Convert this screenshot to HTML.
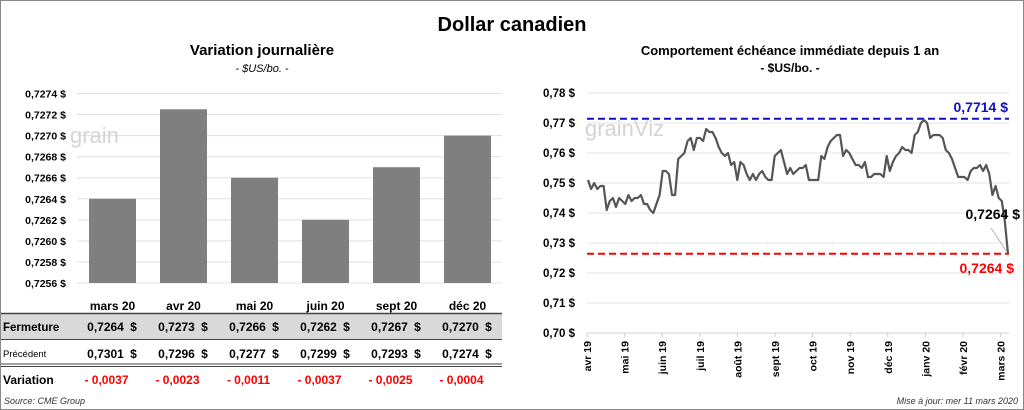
<!DOCTYPE html>
<html><head><meta charset="utf-8"><style>
body{margin:0;background:#fff;font-family:"Liberation Sans",sans-serif}
#wrap{position:relative;width:1024px;height:410px;overflow:hidden}
</style></head><body>
<div id="wrap">
<svg width="1024" height="410" id="svg" xmlns="http://www.w3.org/2000/svg" style="font-family:'Liberation Sans',sans-serif">
<rect x="0.5" y="0.5" width="1023" height="409" fill="#fff" stroke="#888"/>
<text x="512" y="31" text-anchor="middle" font-size="20" font-weight="bold">Dollar canadien</text>
<text x="262" y="55" text-anchor="middle" font-size="15" font-weight="bold">Variation  journalière</text>
<text x="262" y="72" text-anchor="middle" font-size="11" font-style="italic">- $US/bo. -</text>
<text x="790" y="55" text-anchor="middle" font-size="13" font-weight="bold">Comportement échéance immédiate depuis 1 an</text>
<text x="790" y="72" text-anchor="middle" font-size="12" font-weight="bold">- $US/bo. -</text>
<g id="left"></g>
<g id="right"></g>
<text x="4" y="404" font-size="9" font-style="italic" fill="#333">Source: CME Group</text>
<text x="1018" y="404" text-anchor="end" font-size="9" font-style="italic" fill="#333">Mise à jour: mer 11 mars 2020</text>
</svg>
</div>
<script>
const barCats=["mars 20","avr 20","mai 20","juin 20","sept 20","déc 20"];
const barVals=[0.7264,0.72725,0.7266,0.7262,0.7267,0.7270];
const closeLabels=["0,7264","0,7273","0,7266","0,7262","0,7267","0,7270"];
const prevLabels=["0,7301","0,7296","0,7277","0,7299","0,7293","0,7274"];
const varLabels=["- 0,0037","- 0,0023","- 0,0011","- 0,0037","- 0,0025","- 0,0004"];
const barTicks=[0.7256,0.7258,0.7260,0.7262,0.7264,0.7266,0.7268,0.7270,0.7272,0.7274];
const lineMonths=["avr 19","mai 19","juin 19","juil 19","août 19","sept 19","oct 19","nov 19","déc 19","janv 20","févr 20","mars 20"];
const lineTicks=[0.70,0.71,0.72,0.73,0.74,0.75,0.76,0.77,0.78];
const lineVals=[0.751,0.748,0.750,0.748,0.749,0.749,0.741,0.744,0.745,0.742,0.745,0.744,0.743,0.746,0.744,0.745,0.745,0.746,0.743,0.743,0.741,0.740,0.743,0.746,0.754,0.754,0.753,0.746,0.746,0.758,0.759,0.760,0.764,0.765,0.761,0.765,0.765,0.764,0.768,0.767,0.767,0.765,0.762,0.760,0.759,0.760,0.756,0.757,0.751,0.757,0.756,0.753,0.751,0.753,0.751,0.753,0.754,0.752,0.751,0.751,0.759,0.760,0.761,0.757,0.753,0.755,0.753,0.754,0.755,0.755,0.756,0.751,0.751,0.751,0.751,0.759,0.758,0.762,0.764,0.765,0.766,0.766,0.759,0.761,0.760,0.758,0.756,0.756,0.755,0.757,0.752,0.752,0.753,0.753,0.753,0.752,0.759,0.754,0.757,0.759,0.760,0.762,0.761,0.761,0.760,0.766,0.767,0.770,0.771,0.770,0.765,0.766,0.766,0.766,0.765,0.761,0.760,0.758,0.755,0.752,0.752,0.752,0.751,0.754,0.755,0.755,0.756,0.754,0.756,0.753,0.746,0.749,0.745,0.744,0.737,0.7264];
const maxLine=0.7714, lastLine=0.7264;
const NS="http://www.w3.org/2000/svg";
function mk(p,t,a,txt){const e=document.createElementNS(NS,t);for(const k in a)e.setAttribute(k,a[k]);if(txt!=null)e.textContent=txt;p.appendChild(e);return e;}
// Left
const L=document.getElementById('left');
const ly=v=>283-(v-0.7256)/(0.7274-0.7256)*189.5;
const bx0=77,bw=71;const bcx=i=>bx0+bw*(i+0.5);
barTicks.forEach(t=>{
 const g=mk(L,'line',{x1:77,x2:502,y1:ly(t),y2:ly(t),stroke:'#e0e0e0'});
 
 const tx=mk(L,'text',{x:66,y:ly(t)+4,'text-anchor':'end','font-size':10.5,'font-weight':'bold'},t.toFixed(4).replace('.',',')+' $');
 
});
mk(L,'text',{x:70,y:143,'font-size':22,fill:'#d4d4d4'},'grain');
barVals.forEach((v,i)=>{
 const r=mk(L,'rect',{x:bcx(i)-23.5,y:ly(v),width:47,height:283-ly(v),fill:'#7f7f7f'});
 
 const c=mk(L,'text',{x:bcx(i),y:310,'text-anchor':'middle','font-size':12,'font-weight':'bold'},barCats[i]);
 
});
const tr=mk(L,'rect',{x:1,y:314,width:501,height:25,fill:'#d9d9d9'});
mk(L,'line',{x1:1,x2:502,y1:313.5,y2:313.5,stroke:'#444','stroke-width':1.5});
mk(L,'line',{x1:1,x2:502,y1:339.5,y2:339.5,stroke:'#444','stroke-width':1});
mk(L,'line',{x1:1,x2:502,y1:364,y2:364,stroke:'#444','stroke-width':1});
mk(L,'line',{x1:1,x2:502,y1:366.5,y2:366.5,stroke:'#444','stroke-width':1});
let h=mk(L,'text',{x:3,y:331,'font-size':11.5,'font-weight':'bold'},'Fermeture');
h=mk(L,'text',{x:3,y:357,'font-size':9.5},'Précédent');
h=mk(L,'text',{x:3,y:384,'font-size':12,'font-weight':'bold'},'Variation');
barCats.forEach((c,i)=>{
 let t=mk(L,'text',{x:bcx(i)-7,y:331,'text-anchor':'middle','font-size':12,'font-weight':'bold'},closeLabels[i]);
 
 t=mk(L,'text',{x:bcx(i)+21,y:331,'text-anchor':'middle','font-size':12,'font-weight':'bold'},'$');
 
 t=mk(L,'text',{x:bcx(i)-7,y:358,'text-anchor':'middle','font-size':12,'font-weight':'bold'},prevLabels[i]);
 
 t=mk(L,'text',{x:bcx(i)+21,y:358,'text-anchor':'middle','font-size':12,'font-weight':'bold'},'$');
 
 t=mk(L,'text',{x:bcx(i)-6,y:384,'text-anchor':'middle','font-size':12,'font-weight':'bold',fill:'#ff0000'},varLabels[i]);
 
});
// Right
const R=document.getElementById('right');
const ry=v=>333-(v-0.70)/0.08*240;
const X0=587,X1=1009;
lineTicks.forEach(t=>{
 const g=mk(R,'line',{x1:X0,x2:X1,y1:ry(t),y2:ry(t),stroke:t===0.70?'#d0d0d0':'#e6e6e6'});
 
 const tx=mk(R,'text',{x:575,y:ry(t)+4,'text-anchor':'end','font-size':11.5,'font-weight':'bold'},t.toFixed(2).replace('.',',')+' $');
 
});
mk(R,'text',{x:585,y:136,'font-size':22,fill:'#d4d4d4'},'grainViz');
lineMonths.forEach((m,i)=>{
 const x=X0+i*37.6;
 mk(R,'line',{x1:x,x2:x,y1:333,y2:337,stroke:'#ccc'});
 const t=mk(R,'text',{transform:`translate(${x+4},341) rotate(-90)`,'text-anchor':'end','font-size':10.5,'font-weight':'bold'},m);
 
});
let d1=mk(R,'line',{x1:X0,x2:X1,y1:ry(maxLine),y2:ry(maxLine),stroke:'#1010c0','stroke-width':2,'stroke-dasharray':'7,4'});

let d2=mk(R,'line',{x1:X0,x2:X1,y1:ry(lastLine),y2:ry(lastLine),stroke:'#ff0000','stroke-width':2,'stroke-dasharray':'7,4'});

const lx=i=>588+i*(1008-588)/(lineVals.length-1);
const p=mk(R,'path',{d:lineVals.map((v,i)=>(i?'L':'M')+lx(i).toFixed(1)+','+ry(v).toFixed(1)).join(''),fill:'none',stroke:'#555','stroke-width':2.2,'stroke-linejoin':'round'});

const fmt=v=>v.toFixed(4).replace('.',',')+' $';
let a=mk(R,'text',{x:1008,y:ry(maxLine)-7,'text-anchor':'end','font-size':14,'font-weight':'bold',fill:'#1010c0'},fmt(maxLine));

a=mk(R,'text',{x:1020,y:219,'text-anchor':'end','font-size':14,'font-weight':'bold'},fmt(lastLine));

mk(R,'line',{x1:991,y1:228,x2:1007,y2:252,stroke:'#aaa','stroke-width':0.8});
a=mk(R,'text',{x:1014,y:273,'text-anchor':'end','font-size':14,'font-weight':'bold',fill:'#ff0000'},fmt(lastLine));

</script>
</body></html>
